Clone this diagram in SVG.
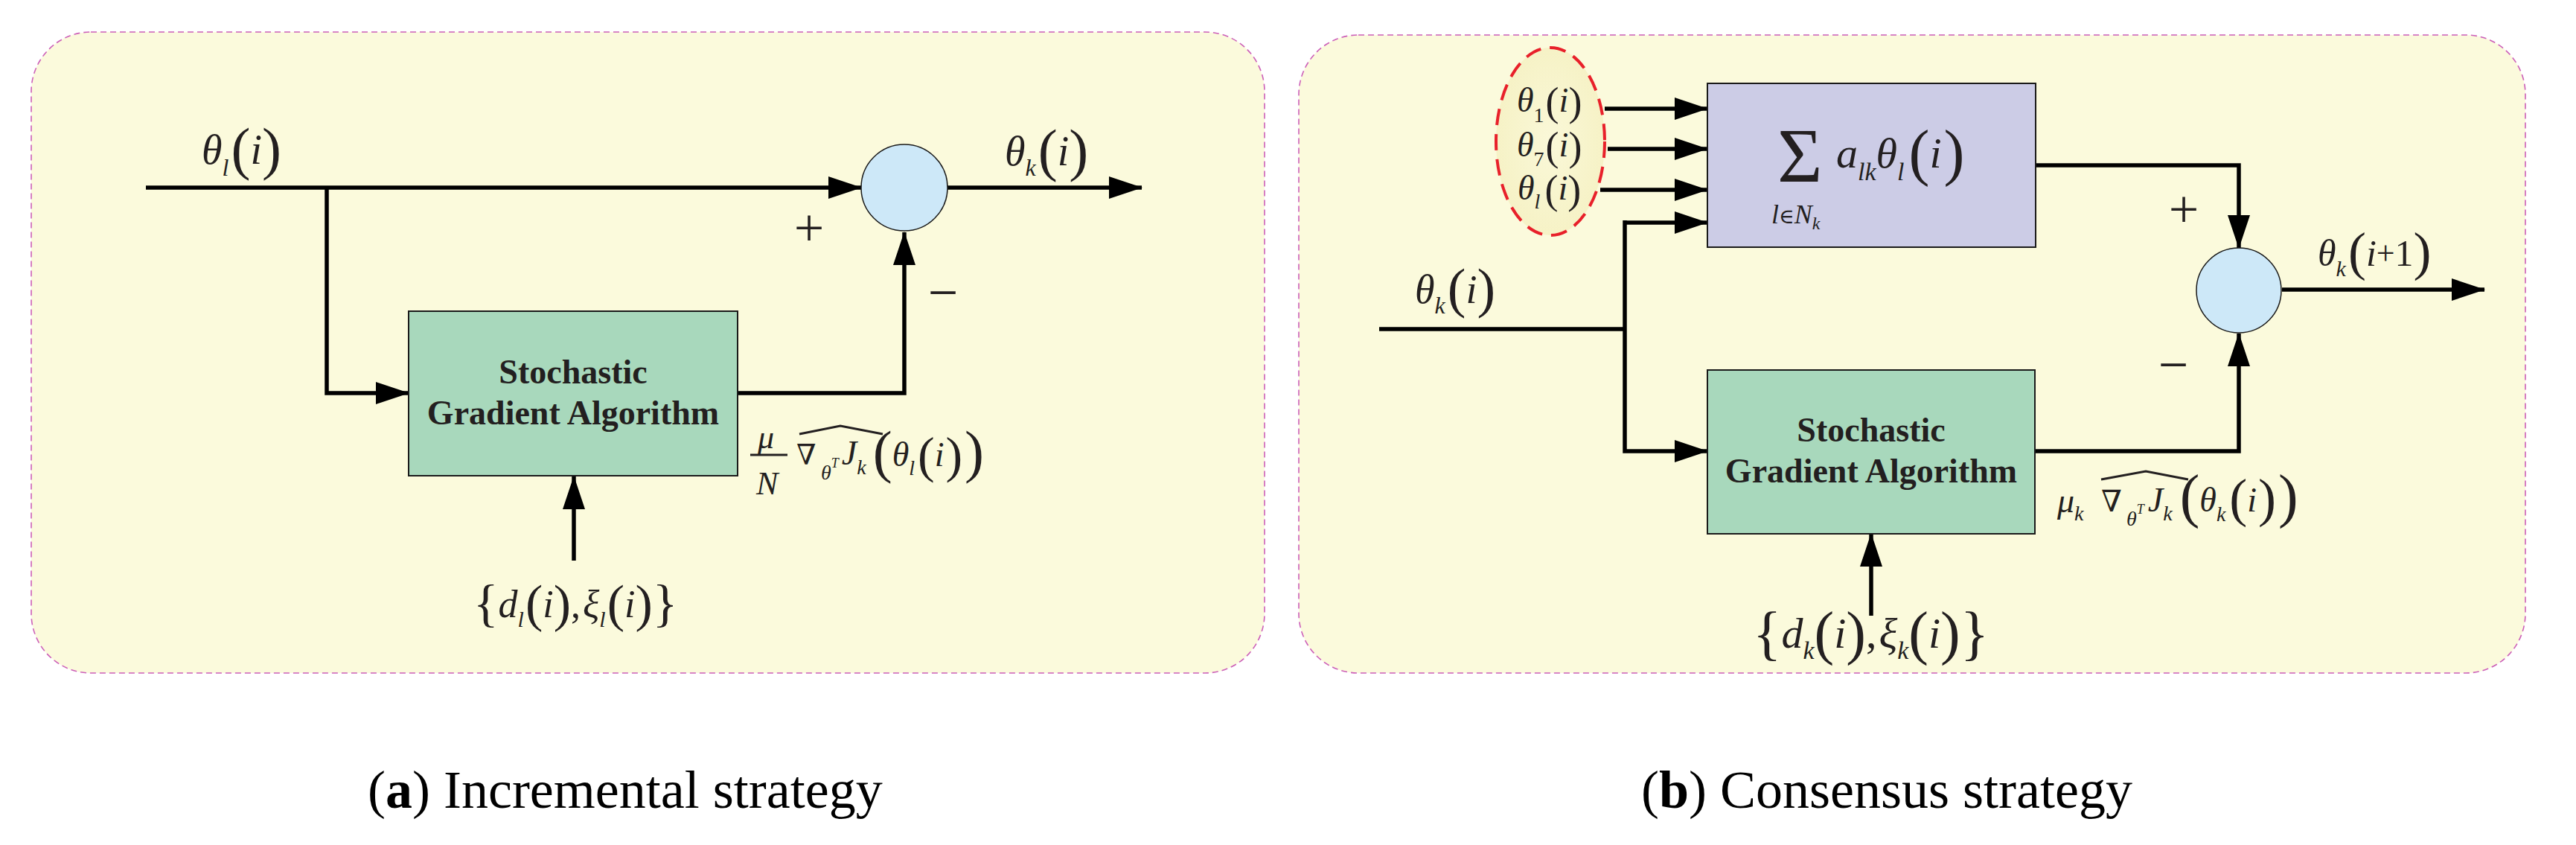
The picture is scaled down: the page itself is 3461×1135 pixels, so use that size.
<svg xmlns="http://www.w3.org/2000/svg" width="3461" height="1135" viewBox="0 0 3461 1135">
<style>
.panel{fill:#FBFADC;stroke:#CC5FB8;stroke-width:1.6;stroke-dasharray:8 5}
.box{stroke:#1a1a1a;stroke-width:2}
.g{fill:#A8D8BC}
.p{fill:#CCCCE6}
.sum{fill:#CDE8F8;stroke:#1a1a1a;stroke-width:1.5}
.w{fill:none;stroke:#000;stroke-width:5.5;stroke-linejoin:miter}
.hat{fill:none;stroke:#231F20;stroke-width:3}
.bt{font-family:"Liberation Serif","DejaVu Serif",serif;font-weight:bold;font-size:46px;fill:#231F20;text-anchor:middle}
.m{font-family:"Liberation Serif","DejaVu Serif",serif;font-style:italic;fill:#231F20}
.u{font-style:normal}
.nb{font-family:"DejaVu Serif","Liberation Serif",serif;fill:#231F20}
.sg{font-family:"Liberation Serif","DejaVu Serif",serif;font-size:72px;fill:#231F20;text-anchor:middle}
.cap{font-family:"Liberation Serif","DejaVu Serif",serif;font-size:72px;fill:#000}
</style>
<defs>
<marker id="ah" viewBox="0 0 45 30" refX="44" refY="15" markerWidth="45" markerHeight="30" markerUnits="userSpaceOnUse" orient="auto">
<path d="M0,0 L45,15 L0,30 Z" fill="#000"/>
</marker>
<radialGradient id="nf" cx="0.5" cy="0.5" r="0.5">
<stop offset="0" stop-color="#FAF8D8"/>
<stop offset="1" stop-color="#F6F2C6"/>
</radialGradient>
</defs>

<g id="panel-a"><rect class="panel" x="42" y="43" width="1657" height="861" rx="80" ry="80"/></g>
<g id="panel-b"><rect class="panel" x="1745" y="47" width="1648" height="857" rx="80" ry="80"/></g>

<g id="connectors">
<path class="w" d="M196,252 H1157" marker-end="url(#ah)"/>
<path class="w" d="M439,252 V528 H549" marker-end="url(#ah)"/>
<path class="w" d="M991,528 H1215 V312" marker-end="url(#ah)"/>
<path class="w" d="M1273,252 H1534" marker-end="url(#ah)"/>
<path class="w" d="M771,753 V640" marker-end="url(#ah)"/>

<path class="w" d="M2156,146 H2294" marker-end="url(#ah)"/>
<path class="w" d="M2160,200 H2294" marker-end="url(#ah)"/>
<path class="w" d="M2150,255 H2294" marker-end="url(#ah)"/>
<path class="w" d="M1853,442 H2183"/>
<path class="w" d="M2183,299 H2294" marker-end="url(#ah)"/>
<path class="w" d="M2183,296 V606 H2294" marker-end="url(#ah)"/>
<path class="w" d="M2735,222 H3008 V333" marker-end="url(#ah)"/>
<path class="w" d="M2734,606 H3008 V448" marker-end="url(#ah)"/>
<path class="w" d="M3066,389 H3338" marker-end="url(#ah)"/>
<path class="w" d="M2514,827 V717" marker-end="url(#ah)"/>
</g>

<g id="sga-a">
<rect class="box g" x="549" y="418" width="442" height="221"/>
<text class="bt" x="770" y="515">Stochastic</text>
<text class="bt" x="770" y="570">Gradient Algorithm</text>
</g>
<g id="sum-a"><circle class="sum" cx="1215" cy="252" r="58"/></g>

<g id="labels-a">
<text class="m" font-size="56" x="271" y="220">θ<tspan y="236" font-size="32">l</tspan><tspan class="u" dx="3" y="226" font-size="78">(</tspan><tspan y="220">i</tspan><tspan class="u" y="226" font-size="78">)</tspan></text>
<text class="m" font-size="56" x="1350" y="222">θ<tspan y="236" font-size="32">k</tspan><tspan class="u" dx="3" y="228" font-size="78">(</tspan><tspan y="222">i</tspan><tspan class="u" y="228" font-size="78">)</tspan></text>
<text class="sg" x="1087" y="330">+</text>
<text class="sg" x="1267" y="417">−</text>
<text class="m" font-size="52" x="636" y="834"><tspan class="u" font-size="70">{</tspan><tspan y="829">d</tspan><tspan y="842" font-size="30">l</tspan><tspan class="u" dx="2" y="834" font-size="70">(</tspan><tspan y="829">i</tspan><tspan class="u" y="834" font-size="70">)</tspan><tspan class="u" y="829">,</tspan><tspan dx="3" y="829">ξ</tspan><tspan y="842" font-size="30">l</tspan><tspan class="u" dx="2" y="834" font-size="70">(</tspan><tspan y="829">i</tspan><tspan class="u" y="834" font-size="70">)</tspan><tspan class="u" y="834" font-size="70">}</tspan></text>
<text class="m" font-size="44" x="1018" y="602">μ</text>
<line x1="1008" y1="611" x2="1058" y2="611" stroke="#231F20" stroke-width="3"/>
<text class="m" font-size="44" x="1016" y="664">N</text>
<text class="nb" font-size="38" x="1070" y="624">∇</text>
<text class="m" font-size="28" x="1103" y="644">θ<tspan y="628" font-size="18">T</tspan><tspan dx="4" y="624" font-size="46">J</tspan><tspan y="637">k</tspan><tspan class="u" dx="9" y="633" font-size="78">(</tspan><tspan y="626" font-size="46">θ</tspan><tspan y="638">l</tspan><tspan class="u" dx="4" y="634" font-size="68">(</tspan><tspan y="626" font-size="46">i</tspan><tspan class="u" dx="2" y="634" font-size="68">)</tspan><tspan class="u" dx="3" y="633" font-size="78">)</tspan></text>
<path class="hat" d="M1074,583 L1129,572 L1186,583"/>
</g>

<g id="sga-b">
<rect class="box g" x="2294" y="497" width="440" height="220"/>
<text class="bt" x="2514" y="593">Stochastic</text>
<text class="bt" x="2514" y="648">Gradient Algorithm</text>
</g>
<g id="combine-b">
<rect class="box p" x="2294" y="112" width="441" height="220"/>
<text class="m u" font-size="104" x="2388" y="244">Σ</text>
<text class="m" font-size="58" x="2467" y="225">a<tspan y="242" font-size="34">lk</tspan><tspan y="225">θ</tspan><tspan y="242" font-size="34">l</tspan><tspan class="u" dx="6" y="233" font-size="84">(</tspan><tspan y="225">i</tspan><tspan class="u" dx="3" y="233" font-size="84">)</tspan></text>
<text class="m" font-size="36" x="2380" y="300">l<tspan class="nb u" font-size="28">∈</tspan><tspan>N</tspan><tspan y="308" font-size="24">k</tspan></text>
</g>
<g id="neighbors-b">
<ellipse cx="2083" cy="190" rx="73" ry="126" fill="url(#nf)" stroke="#E8202A" stroke-width="4" stroke-dasharray="22 12"/>
<text class="m" font-size="46" x="2038" y="150">θ<tspan class="u" y="164" font-size="28">1</tspan><tspan class="u" dx="2" y="155" font-size="54">(</tspan><tspan y="150">i</tspan><tspan class="u" y="155" font-size="54">)</tspan></text>
<text class="m" font-size="46" x="2038" y="210">θ<tspan class="u" y="223" font-size="28">7</tspan><tspan class="u" dx="2" y="215" font-size="54">(</tspan><tspan y="210">i</tspan><tspan class="u" y="215" font-size="54">)</tspan></text>
<text class="m" font-size="46" x="2039" y="268">θ<tspan y="280" font-size="28">l</tspan><tspan class="u" dx="6" y="273" font-size="54">(</tspan><tspan y="268">i</tspan><tspan class="u" y="273" font-size="54">)</tspan></text>
</g>
<g id="sum-b"><circle class="sum" cx="3008" cy="390" r="57"/></g>

<g id="labels-b">
<text class="m" font-size="54" x="1901" y="407">θ<tspan y="421" font-size="32">k</tspan><tspan class="u" dx="3" y="412" font-size="74">(</tspan><tspan y="407">i</tspan><tspan class="u" y="412" font-size="74">)</tspan></text>
<text class="m" font-size="50" x="3114" y="357">θ<tspan y="371" font-size="30">k</tspan><tspan class="u" dx="3" y="362" font-size="72">(</tspan><tspan y="357">i</tspan><tspan class="u" y="355" font-size="44">+</tspan><tspan class="u" y="357">1</tspan><tspan class="u" y="362" font-size="72">)</tspan></text>
<text class="sg" x="2934" y="305">+</text>
<text class="sg" x="2920" y="514">−</text>
<text class="m" font-size="58" x="2355" y="877"><tspan class="u" font-size="80">{</tspan><tspan y="870">d</tspan><tspan y="885" font-size="34">k</tspan><tspan class="u" y="877" font-size="80">(</tspan><tspan y="870">i</tspan><tspan class="u" y="877" font-size="80">)</tspan><tspan class="u" y="870">,</tspan><tspan dx="3" y="870">ξ</tspan><tspan y="885" font-size="34">k</tspan><tspan class="u" y="877" font-size="80">(</tspan><tspan y="870">i</tspan><tspan class="u" y="877" font-size="80">)</tspan><tspan class="u" y="877" font-size="80">}</tspan></text>
<text class="m" font-size="46" x="2764" y="688">μ<tspan y="699" font-size="28">k</tspan></text>
<text class="nb" font-size="40" x="2823" y="687">∇</text>
<text class="m" font-size="28" x="2857" y="706">θ<tspan y="690" font-size="18">T</tspan><tspan dx="5" y="687" font-size="46">J</tspan><tspan y="699">k</tspan><tspan class="u" dx="10" y="693" font-size="80">(</tspan><tspan y="687" font-size="46">θ</tspan><tspan y="700">k</tspan><tspan class="u" dx="5" y="693" font-size="72">(</tspan><tspan y="687" font-size="46">i</tspan><tspan class="u" dx="2" y="693" font-size="72">)</tspan><tspan class="u" dx="3" y="693" font-size="80">)</tspan></text>
<path class="hat" d="M2823,644 L2883,633 L2940,644"/>
</g>

<g id="captions">
<text class="cap" x="494" y="1085">(<tspan font-weight="bold">a</tspan>) Incremental strategy</text>
<text class="cap" x="2205" y="1085">(<tspan font-weight="bold">b</tspan>) Consensus strategy</text>
</g>
</svg>
